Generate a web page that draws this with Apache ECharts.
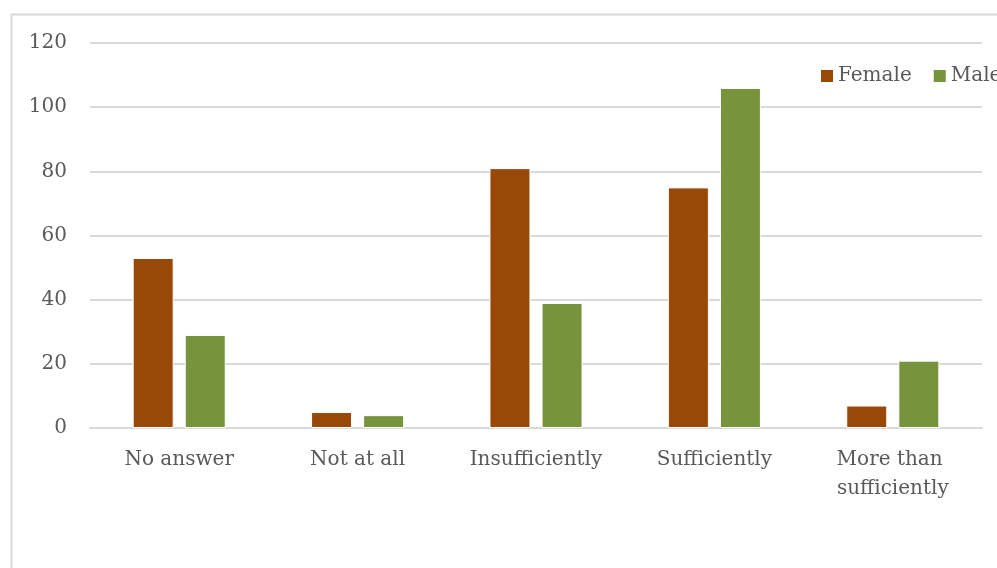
<!DOCTYPE html>
<html>
<head>
<meta charset="utf-8">
<script src="https://cdn.jsdelivr.net/npm/echarts@6/dist/echarts.min.js"></script>
<style>
  html, body { margin: 0; padding: 0; background: #fff; }
  #chart { width: 997px; height: 568px; }
</style>
</head>
<body>
<div id="chart"></div>
<script>
// Survey answers split by gender
const categories = ['No answer', 'Not at all', 'Insufficiently', 'Sufficiently', 'More than sufficiently'];
const femaleValues = [53, 5, 81, 75, 7];
const maleValues = [29, 4, 39, 106, 21];
const seriesNames = ['Female', 'Male'];

const textColor = '#595959';
const gridColor = '#d9d9d9';
const fontFamily = '"DejaVu Serif", serif';

const chart = echarts.init(document.getElementById('chart'), null, { renderer: 'canvas' });

chart.setOption({
  backgroundColor: '#ffffff',
  animation: false,
  textStyle: { fontFamily: fontFamily, color: textColor },
  graphic: [
    {
      type: 'rect',
      shape: { x: 11.5, y: 14.5, width: 1100, height: 700 },
      style: { fill: 'none', stroke: gridColor, lineWidth: 2 },
      silent: true,
      z: -1
    }
  ],
  legend: {
    data: seriesNames,
    orient: 'horizontal',
    left: 819,
    top: 66,
    width: 400,
    padding: 0,
    itemWidth: 14,
    itemHeight: 14,
    itemGap: 20,
    icon: 'rect',
    textStyle: { fontFamily: fontFamily, fontSize: 20, color: textColor, padding: [0, 0, 0, -1] }
  },
  grid: {
    left: 90,
    right: 15,
    top: 43,
    bottom: 140,
    containLabel: false
  },
  xAxis: {
    type: 'category',
    data: categories,
    axisLine: { show: true, lineStyle: { color: gridColor, width: 2 } },
    axisTick: { show: false },
    axisLabel: {
      color: textColor,
      fontFamily: fontFamily,
      fontSize: 20,
      margin: 17,
      lineHeight: 29,
      width: 170,
      overflow: 'break',
      interval: 0
    }
  },
  yAxis: {
    type: 'value',
    min: 0,
    max: 120,
    interval: 20,
    axisLine: { show: false },
    axisTick: { show: false },
    axisLabel: {
      color: textColor,
      fontFamily: fontFamily,
      fontSize: 20,
      margin: 23
    },
    splitLine: { lineStyle: { color: gridColor, width: 2 } }
  },
  series: [
    {
      name: seriesNames[0],
      type: 'bar',
      data: femaleValues,
      barWidth: 41,
      barGap: '27%',
      itemStyle: { color: '#984807', borderColor: '#ffffff', borderWidth: 1 }
    },
    {
      name: seriesNames[1],
      type: 'bar',
      data: maleValues,
      barWidth: 41,
      itemStyle: { color: '#77933c', borderColor: '#ffffff', borderWidth: 1 }
    }
  ]
});
</script>
</body>
</html>
